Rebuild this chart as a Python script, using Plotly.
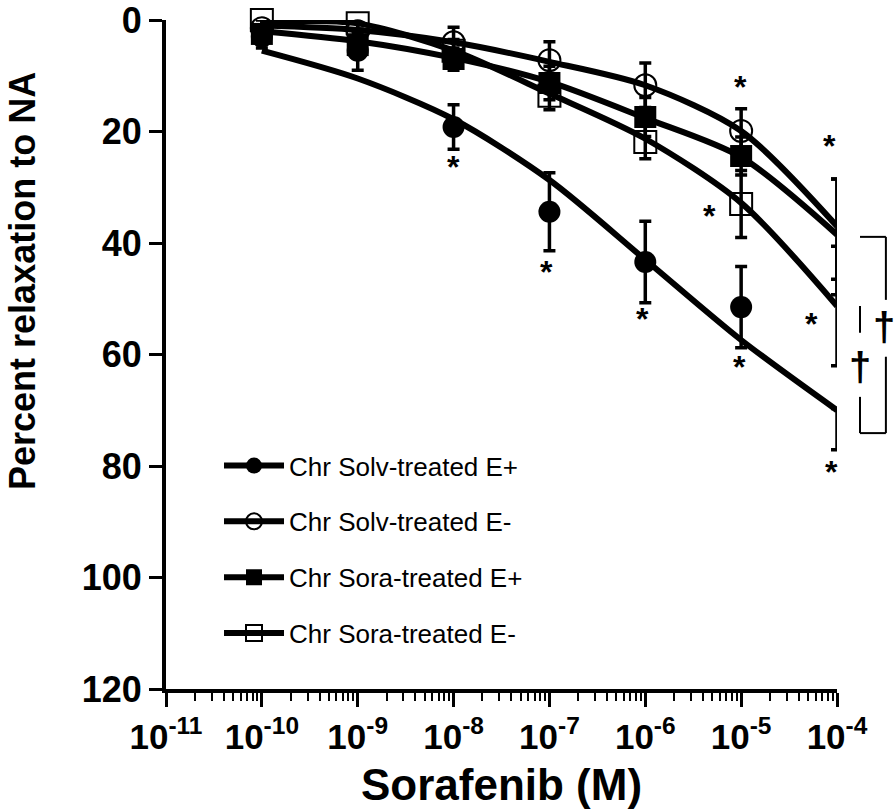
import numpy as np
import plotly.graph_objects as go

# ---------------- data ----------------
conc = [1e-10, 1e-9, 1e-8, 1e-7, 1e-6, 1e-5, 1e-4]

solv_pos_mean = [3.0, 5.5, 19.2, 34.4, 43.4, 51.5, 73.4]
solv_pos_sem = [2.0, 3.5, 4.0, 7.0, 7.3, 7.3, 3.7]
solv_pos_fit = [5.5, 10.5, 17.8, 28.7, 43.0, 57.4, 70.0]

solv_neg_mean = [1.5, 2.0, 4.0, 7.2, 11.7, 19.9, 37.5]
solv_neg_sem = [1.5, 1.5, 2.7, 3.3, 4.0, 4.0, 9.0]
solv_neg_fit = [1.0, 1.8, 4.0, 7.5, 11.7, 19.9, 37.0]

sora_pos_mean = [2.5, 4.5, 7.0, 11.3, 17.4, 24.4, 38.9]
sora_pos_sem = [1.5, 2.0, 2.0, 3.0, 3.5, 3.4, 10.4]
sora_pos_fit = [2.0, 3.8, 6.8, 11.1, 17.6, 24.6, 38.5]

sora_neg_mean = [0.0, 0.6, 5.5, 13.6, 21.9, 33.0, 51.3]
sora_neg_sem = [1.0, 1.0, 2.0, 2.5, 3.0, 6.0, 10.7]
sora_neg_fit = [0.3, 0.6, 5.5, 13.2, 21.3, 32.8, 51.3]

names = ["Chr Solv-treated E+", "Chr Solv-treated E-",
         "Chr Sora-treated E+", "Chr Sora-treated E-"]
symbols = ["circle", "circle-open", "square", "square-open"]

x_tick_exponents = [-11, -10, -9, -8, -7, -6, -5, -4]
y_ticks = [0, 20, 40, 60, 80, 100, 120]

# significance marks: (log10 concentration, value)
star_x = [-8.0, -7.03, -6.03, -5.02, -4.06, -5.01, -4.08, -5.33, -4.27]
star_y = [25.6, 44.5, 52.9, 61.5, 80.4, 11.3, 21.9, 34.4, 53.8]

FONT = "Liberation Sans, Arial, sans-serif"
BLACK = "black"

fig = go.Figure()

groups = [
    (solv_pos_mean, solv_pos_sem, solv_pos_fit),
    (solv_neg_mean, solv_neg_sem, solv_neg_fit),
    (sora_pos_mean, sora_pos_sem, sora_pos_fit),
    (sora_neg_mean, sora_neg_sem, sora_neg_fit),
]

# fitted curves
for (m, s, f), nm in zip(groups, names):
    fig.add_trace(go.Scatter(
        x=conc, y=f, mode="lines", line=dict(color=BLACK, width=6, shape="spline", smoothing=0.8),
        showlegend=False, hoverinfo="skip", cliponaxis=False))

# data points with SEM
for (m, s, f), nm, sym in zip(groups, names, symbols):
    open_ = sym.endswith("open")
    fig.add_trace(go.Scatter(
        x=conc, y=m, mode="markers",
        marker=dict(symbol=sym, size=22, color=BLACK,
                    line=dict(color=BLACK, width=2 if open_ else 0)),
        error_y=dict(type="data", array=s, visible=True, color=BLACK, thickness=3.5, width=6),
        showlegend=False, cliponaxis=False, name=nm))

# legend entries
for nm, sym in zip(names, symbols):
    open_ = sym.endswith("open")
    fig.add_trace(go.Scatter(
        x=[None], y=[None], mode="lines+markers", name=nm,
        line=dict(color=BLACK, width=6),
        marker=dict(symbol=sym, size=22, color=BLACK,
                    line=dict(color=BLACK, width=2 if open_ else 0)),
        legendgroup=nm))

# asterisks
for sx, sy in zip(star_x, star_y):
    fig.add_annotation(x=sx, y=sy, xref="x", yref="y", text="<b>*</b>", showarrow=False,
                       font=dict(family=FONT, size=32, color=BLACK),
                       xanchor="center", yanchor="middle", yshift=-4)

# brackets with daggers (derived from the 1e-4 means)
def px(logv):
    return (logv + 11) / 7.0

def py(v):
    return 1 - v / 120.0

xo, xi = px(-3.49), px(-3.76)
top_o = sora_pos_mean[-1]
top_i = sora_neg_mean[-1]
bot = solv_pos_mean[-1] + 0.7
line = dict(color=BLACK, width=2)
# outer bracket
fig.add_shape(type="line", xref="paper", yref="paper", x0=xi, x1=xo, y0=py(top_o), y1=py(top_o), line=line)
fig.add_shape(type="line", xref="paper", yref="paper", x0=xo, x1=xo, y0=py(top_o), y1=py(50.2), line=line)
fig.add_shape(type="line", xref="paper", yref="paper", x0=xo, x1=xo, y0=py(60.4), y1=py(bot), line=line)
fig.add_shape(type="line", xref="paper", yref="paper", x0=xi, x1=xo, y0=py(bot), y1=py(bot), line=line)
# inner bracket
fig.add_shape(type="line", xref="paper", yref="paper", x0=xi, x1=xi, y0=py(top_i), y1=py(56.1), line=line)
fig.add_shape(type="line", xref="paper", yref="paper", x0=xi, x1=xi, y0=py(67.6), y1=py(bot), line=line)
for dx, dy in [(-3.51, 55.1), (-3.76, 62.2)]:
    fig.add_annotation(x=px(dx), y=py(dy), xref="paper", yref="paper", text="<b>†</b>",
                       showarrow=False, font=dict(family=FONT, size=40, color=BLACK),
                       xanchor="center", yanchor="middle")

# y title
fig.add_annotation(x=-0.213, y=0.61, xref="paper", yref="paper", text="<b>Percent relaxation to NA</b>",
                   textangle=-90, showarrow=False, font=dict(family=FONT, size=36, color=BLACK),
                   xanchor="center", yanchor="middle")

fig.update_layout(
    width=894, height=809,
    margin=dict(l=166, r=57, t=20, b=120, autoexpand=False),
    plot_bgcolor="white", paper_bgcolor="white",
    font=dict(family=FONT, color=BLACK),
    legend=dict(x=0.079, y=0.369, xanchor="left", yanchor="top",
                font=dict(family=FONT, size=26, color=BLACK),
                bgcolor="rgba(0,0,0,0)", tracegroupgap=19, itemwidth=60),
    showlegend=True,
)

fig.update_xaxes(
    type="log", range=[-11, -4],
    tickmode="array", tickvals=[10.0 ** e for e in x_tick_exponents],
    ticktext=["<b>10<sup>%d</sup></b>" % e for e in x_tick_exponents],
    ticks="outside", ticklen=14, tickwidth=3, tickcolor=BLACK,
    tickfont=dict(family=FONT, size=35, color=BLACK),
    ticklabeloverflow="allow",
    minor=dict(ticks="outside", ticklen=8, tickwidth=2, tickcolor=BLACK, dtick="D1", showgrid=False),
    showline=True, linewidth=4, linecolor=BLACK, showgrid=False, zeroline=False,
    title=dict(text="<b>Sorafenib (M)</b>", font=dict(family=FONT, size=44, color=BLACK), standoff=20),
)
fig.update_yaxes(
    range=[120, 0], tickmode="array", tickvals=y_ticks,
    ticks="outside", ticklen=13, tickwidth=3, tickcolor=BLACK,
    tickfont=dict(family=FONT, size=36, color=BLACK, weight="bold"),
    ticklabeloverflow="allow",
    showline=True, linewidth=4, linecolor=BLACK, showgrid=False, zeroline=False,
)

# remove the default page margin so the figure sits at the window's top-left corner
fig.write_html("out.html",
               config={"displayModeBar": False},
               post_script="document.body.style.margin='0';document.body.style.overflow='hidden';")
